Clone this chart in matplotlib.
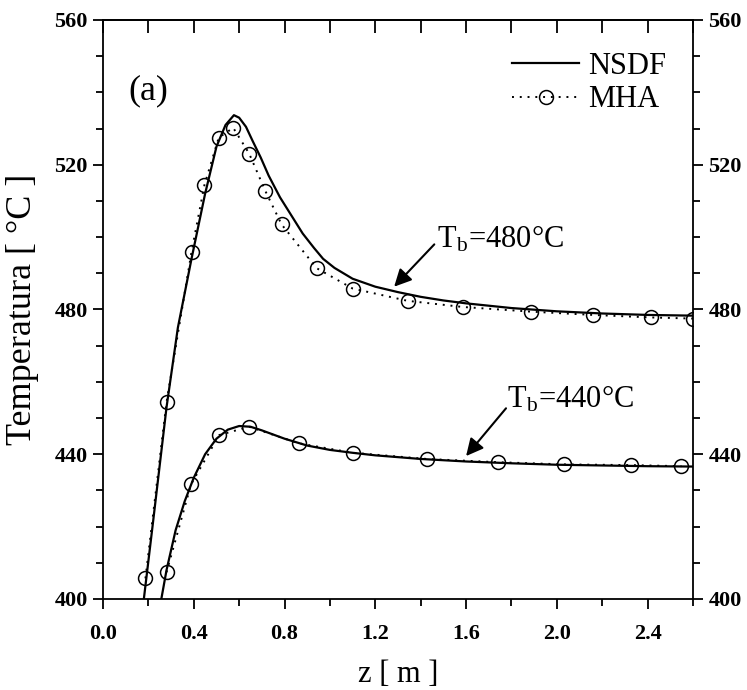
import matplotlib

matplotlib.use("Agg")
import matplotlib.pyplot as plt
from matplotlib.ticker import MultipleLocator

plt.rcParams["font.family"] = ["Liberation Serif", "DejaVu Serif"]
plt.rcParams["mathtext.fontset"] = "stix"

# NSDF, Tb = 480 C (solid curve)
z_nsdf_480 = [0.18, 0.22, 0.28, 0.33, 0.39, 0.45, 0.50, 0.54, 0.577, 0.60, 0.63,
              0.66, 0.695, 0.73, 0.78, 0.83, 0.88, 0.93, 0.97, 1.02, 1.10, 1.20,
              1.30, 1.40, 1.50, 1.60, 1.80, 2.00, 2.20, 2.40, 2.60]
t_nsdf_480 = [400, 421, 453, 475, 494, 512, 525, 531, 533.7, 533, 530.5,
              526.5, 522, 517, 511, 506, 501, 497, 494, 491.5, 488.5, 486.3,
              484.8, 483.5, 482.5, 481.7, 480.4, 479.5, 478.9, 478.5, 478.3]

# MHA, Tb = 480 C (dotted curve with circles)
z_mha_480 = [0.187, 0.28, 0.39, 0.447, 0.51, 0.574, 0.644, 0.715, 0.787, 0.942,
             1.10, 1.342, 1.585, 1.887, 2.159, 2.416, 2.60]
t_mha_480 = [405.7, 454.4, 495.9, 514.4, 527.5, 530.2, 523.1, 512.8, 503.5, 491.4,
             485.8, 482.4, 480.7, 479.4, 478.5, 477.8, 477.5]

# NSDF, Tb = 440 C
z_nsdf_440 = [0.257, 0.28, 0.32, 0.36, 0.40, 0.45, 0.50, 0.55, 0.60, 0.65, 0.70,
              0.80, 0.90, 1.00, 1.10, 1.20, 1.40, 1.60, 1.80, 2.00, 2.20, 2.40, 2.60]
t_nsdf_440 = [400, 408, 419, 427, 433.5, 440, 444.3, 446.8, 447.8, 447.6, 446.6,
              444.3, 442.4, 441.2, 440.4, 439.7, 438.7, 438.0, 437.5, 437.1, 436.9,
              436.7, 436.6]

# MHA, Tb = 440 C
z_mha_440 = [0.28, 0.388, 0.512, 0.644, 0.864, 1.101, 1.426, 1.742, 2.031, 2.328, 2.549]
t_mha_440 = [407.4, 431.7, 445.3, 447.6, 443.0, 440.4, 438.7, 437.8, 437.2, 437.0, 436.7]

series_labels = ["NSDF", "MHA"]
curve_labels = [r"T$_\mathregular{b}$=480°C", r"T$_\mathregular{b}$=440°C"]

fig = plt.figure(figsize=(7.47, 6.90), dpi=100)
ax = fig.add_axes([103 / 747, 1 - 599 / 690, 590 / 747, 579 / 690])

line_kw = dict(color="black", lw=1.6)
mha_kw = dict(color="black", lw=1.4, ls=(0, (1, 3)), marker="o", ms=10,
              mfc="none", mec="black", mew=1.1)

ax.plot(z_nsdf_480, t_nsdf_480, label=series_labels[0], **line_kw)
ax.plot(z_mha_480, t_mha_480, label=series_labels[1], **mha_kw)
ax.plot(z_nsdf_440, t_nsdf_440, **line_kw)
ax.plot(z_mha_440, t_mha_440, **mha_kw)

ax.set_xlim(0.0, 2.6)
ax.set_ylim(400, 560)
ax.xaxis.set_major_locator(MultipleLocator(0.4))
ax.xaxis.set_minor_locator(MultipleLocator(0.2))
ax.yaxis.set_major_locator(MultipleLocator(40))
ax.yaxis.set_minor_locator(MultipleLocator(10))
ax.xaxis.set_major_formatter(lambda v, p: f"{v:.1f}")

for s in ax.spines.values():
    s.set_linewidth(1.3)

ax.tick_params(axis="both", which="both", direction="out", width=1.3,
               labelsize=16)
ax.tick_params(axis="both", which="major", length=7)
ax.tick_params(axis="both", which="minor", length=5)
ax.tick_params(axis="y", which="both", left=True, right=True,
               labelleft=True, labelright=True, pad=4)
ax.tick_params(axis="x", which="both", top=False, pad=11)
for lab in ax.get_xticklabels() + ax.get_yticklabels():
    lab.set_fontweight("bold")
for t in ax.yaxis.get_major_ticks():
    t.label2.set_fontweight("bold")

top = ax.secondary_xaxis("top")
top.xaxis.set_major_locator(MultipleLocator(0.4))
top.xaxis.set_minor_locator(MultipleLocator(0.2))
top.tick_params(axis="x", which="both", direction="in", width=1.3,
                labeltop=False)
top.tick_params(axis="x", which="major", length=9)
top.tick_params(axis="x", which="minor", length=9)
top.spines["top"].set_linewidth(1.3)

ax.set_xlabel("z [ m ]", fontsize=22)
ax.xaxis.set_label_coords(0.5, -0.105)
ax.set_ylabel("Temperatura [ °C ]", fontsize=26)
ax.yaxis.set_label_coords(-0.108, 0.5)

ax.text(0.2, 540.5, "(a)", fontsize=26, ha="center", va="center")

leg = ax.legend(loc="upper left", bbox_to_anchor=((512 - 103) / 590, 0.945),
                frameon=False, fontsize=22, handlelength=2.2, handletextpad=0.3,
                labelspacing=0.15, borderpad=0, borderaxespad=0, numpoints=1)

# curve labels with arrows
ax.text(1.472, 497, curve_labels[0], fontsize=22, ha="left", va="baseline")
ax.annotate("", xy=(1.283, 486.3), xytext=(1.46, 498.0),
            arrowprops=dict(arrowstyle="-|>", color="black", lw=1.5,
                            mutation_scale=26, shrinkA=0, shrinkB=0))
ax.text(1.781, 452.8, curve_labels[1], fontsize=22, ha="left", va="baseline")
ax.annotate("", xy=(1.60, 439.5), xytext=(1.776, 452.7),
            arrowprops=dict(arrowstyle="-|>", color="black", lw=1.5,
                            mutation_scale=26, shrinkA=0, shrinkB=0))

fig.savefig("out.png", dpi=100)
